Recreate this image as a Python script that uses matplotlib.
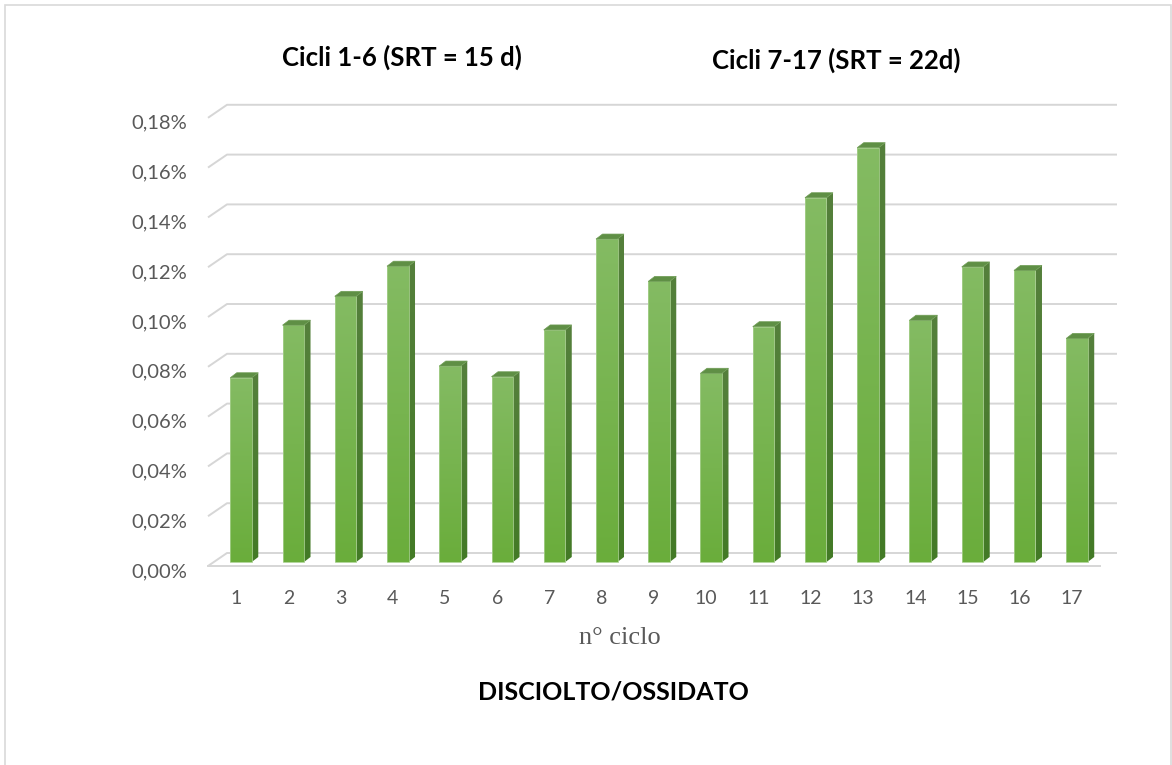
import numpy as np
import matplotlib
matplotlib.use("Agg")
import matplotlib.pyplot as plt
from matplotlib.patches import Polygon, Rectangle
from matplotlib.colors import LinearSegmentedColormap
from matplotlib.transforms import ScaledTranslation

# ---- data -----------------------------------------------------------------
cycles = [str(i) for i in range(1, 18)]
values = [0.0740, 0.0951, 0.1067, 0.1188, 0.0787, 0.0744, 0.0932, 0.1297, 0.1127,
          0.0758, 0.0945, 0.1463, 0.1664, 0.0971, 0.1185, 0.1171, 0.0898]  # percent
y_ticks = [0.00, 0.02, 0.04, 0.06, 0.08, 0.10, 0.12, 0.14, 0.16, 0.18]
title_left = "Cicli 1-6 (SRT = 15 d)"
title_right = "Cicli 7-17 (SRT = 22d)"
x_label = "n° ciclo"
caption = "DISCIOLTO/OSSIDATO"

# ---- figure / axes --------------------------------------------------------
W, H = 1172, 765
fig = plt.figure(figsize=(W / 100, H / 100), dpi=100)
fig.patch.set_facecolor("white")

L, R = 209.9, 1098.1          # pixel extent of the front plane
Y0, YSPAN = 566.0, 448.2      # pixel row of 0 % and height of 0..0.18 %
ax = fig.add_axes([L / W, 1 - Y0 / H, (R - L) / W, YSPAN / H])
ax.set_xlim(0.5, 17.5)
ax.set_ylim(0, 0.18)
for s in ax.spines.values():
    s.set_visible(False)
ax.patch.set_alpha(0)

PX_X = (R - L) / 17.0
PX_Y = YSPAN / 0.18
def dx(p):
    return p / PX_X
def dy(p):
    return p / PX_Y

grid_c = "#d6d6d6"
# back-wall gridlines with the oblique stub on the left side wall
x_front_left = 0.5 + dx(208 - L)
x_back_left = x_front_left + dx(19)
x_back_right = 17.5 + dx(1117 - R)
for v in y_ticks:
    ax.plot([x_front_left, x_back_left, x_back_right], [v, v + dy(13), v + dy(13)],
            color=grid_c, lw=1.4, clip_on=False, zorder=1, solid_capstyle="butt")
# front edge of the floor
ax.plot([x_front_left, 17.5 + dx(1100 - R)], [0, 0], color=grid_c, lw=1.4,
        clip_on=False, zorder=1)

# ---- 3-D looking columns --------------------------------------------------
front_cmap = LinearSegmentedColormap.from_list("front", ["#6aad3b", "#84bb63"])
side_cmap = LinearSegmentedColormap.from_list("side", ["#437a26", "#55803c"])
grad = np.linspace(0, 1, 256).reshape(-1, 1)

bw = dx(21.5)
ox, oy = dx(5), dy(4)       # column plane offset from the floor front edge
ddx, ddy = dx(6.5), dy(5)   # column depth
for i, v in enumerate(values):
    xc = i + 1
    x0 = xc - bw / 2 + ox
    x1 = x0 + bw
    b = oy
    t = oy + v
    # front face
    front = Polygon([[x0, b], [x1, b], [x1, t], [x0, t]], closed=True,
                    facecolor="none", edgecolor="#a6cf8c", lw=0.6, zorder=4,
                    clip_on=False)
    ax.add_patch(front)
    im = ax.imshow(grad, cmap=front_cmap, extent=[x0, x1, b, t], origin="lower",
                   aspect="auto", zorder=3, interpolation="bilinear")
    im.set_clip_path(front)
    # side face
    side = Polygon([[x1, b], [x1 + ddx, b + ddy], [x1 + ddx, t + ddy], [x1, t]],
                   closed=True, facecolor="none", edgecolor="none", zorder=4,
                   clip_on=False)
    ax.add_patch(side)
    im2 = ax.imshow(grad, cmap=side_cmap, extent=[x1, x1 + ddx, b, t + ddy],
                    origin="lower", aspect="auto", zorder=3, interpolation="bilinear")
    im2.set_clip_path(side)
    # top face
    ax.add_patch(Polygon([[x0, t], [x1, t], [x1 + ddx, t + ddy], [x0 + ddx, t + ddy]],
                         closed=True, facecolor="#5f8f45", edgecolor="#6f9d55",
                         lw=0.5, zorder=4, clip_on=False))

ax.set_xlim(0.5, 17.5)
ax.set_ylim(0, 0.18)

# ---- ticks ----------------------------------------------------------------
tick_c = "#595959"
ax.set_xticks(range(1, 18))
ax.set_xticklabels(cycles, fontsize=14, color=tick_c, fontfamily="Lato")
ax.tick_params(axis="x", length=0, pad=17)
ax.set_yticks(y_ticks)
ax.set_yticklabels([])
ax.tick_params(axis="y", length=0)
# value labels on the left, slightly below each gridline
ylab_tr = ax.transData + ScaledTranslation(-21 / 100, -4 / 100, fig.dpi_scale_trans)
for v in y_ticks:
    ax.text(x_front_left, v, f"{v:.2f}%".replace(".", ","), transform=ylab_tr,
            ha="right", va="center_baseline", fontsize=14.5, color=tick_c,
            fontfamily="Lato", clip_on=False)

# ---- titles ---------------------------------------------------------------
fig.text(402 / W, 1 - 57 / H, title_left, ha="center", va="center",
         fontsize=18.5, fontweight="bold", fontfamily="Lato", color="black")
fig.text(836 / W, 1 - 60 / H, title_right, ha="center", va="center",
         fontsize=18.5, fontweight="bold", fontfamily="Lato", color="black")
fig.text(620 / W, 1 - 638 / H, x_label, ha="center", va="center",
         fontsize=19, fontfamily="Liberation Serif", color=tick_c)
fig.text(613 / W, 1 - 692 / H, caption, ha="center", va="center",
         fontsize=18, fontweight="bold", fontfamily="Lato", color="black")

# chart area border (open at the bottom edge of the image)
fig.add_artist(Rectangle((4.5 / W, -0.05), (1171 - 4.5) / W, 1.05 - 4.5 / H,
                         transform=fig.transFigure, facecolor="none",
                         edgecolor="#d9d9d9", lw=1.2))

fig.savefig("out.png", dpi=100, facecolor="white")
